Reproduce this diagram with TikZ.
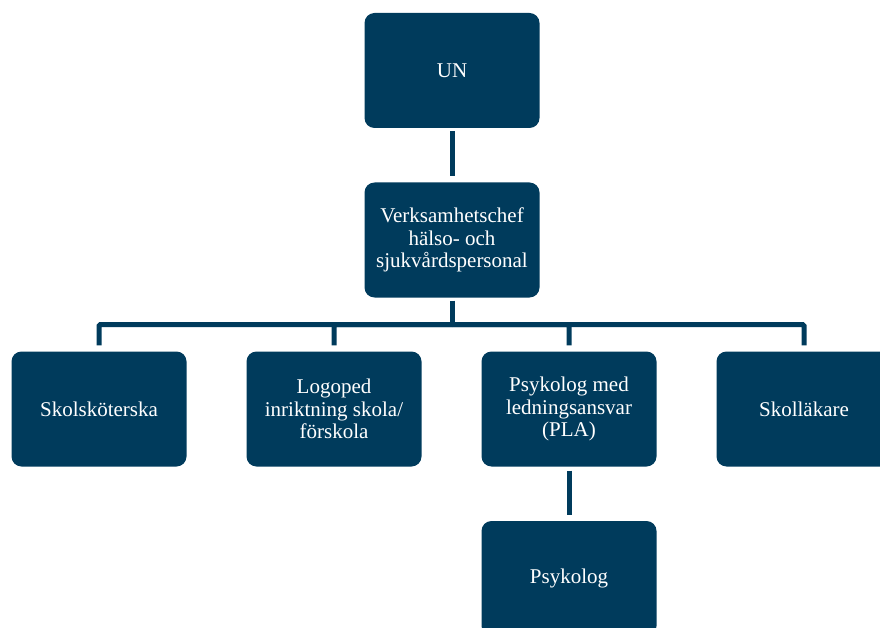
\documentclass[tikz,border=0pt]{standalone}
\usepackage{fontspec}
\setmainfont{Liberation Serif}
\usetikzlibrary{positioning}
\definecolor{orgblue}{RGB}{0,59,92}

\begin{document}
\begin{tikzpicture}[
    x=1pt, y=-1pt,
    font=\fontsize{21}{22.5}\selectfont,
    unit/.style={rectangle, rounded corners=10pt, fill=orgblue, text=white, align=center, minimum width=175pt, minimum height=115pt, inner sep=2pt},
    link/.style={draw=orgblue, line width=5pt, rounded corners=1.5pt}
]
\useasboundingbox (0,0) rectangle (880,628);
\clip (0,0) rectangle (880,628);

\node[unit] (un) at (452,70.5) {UN};
\node[unit] (chef) at (452,240) {Verksamhetschef\\hälso- och\\sjukvårdspersonal};

\node[unit] (sjuk) at (99,409) {Skolsköterska};
\node[unit] (logo) at (334,409) {Logoped\\inriktning skola/\\förskola};
\node[unit] (pla) at (569,409) {Psykolog med\\ledningsansvar\\(PLA)};
\node[unit] (lak) at (804,409) {Skolläkare};

\node[unit] (psyk) at (569,578.5) {Psykolog};

\coordinate (bus) at (452,324.5);

\draw[link, shorten <=3pt, shorten >=6pt] (un) -- (chef);
\draw[link, shorten <=3pt] (chef) -- (bus);
\foreach \kid in {sjuk, logo, pla, lak}
    \draw[link, shorten >=6pt] (bus) -| (\kid);
\draw[link, shorten <=4pt, shorten >=6pt] (pla) -- (psyk);
\end{tikzpicture}
\end{document}
